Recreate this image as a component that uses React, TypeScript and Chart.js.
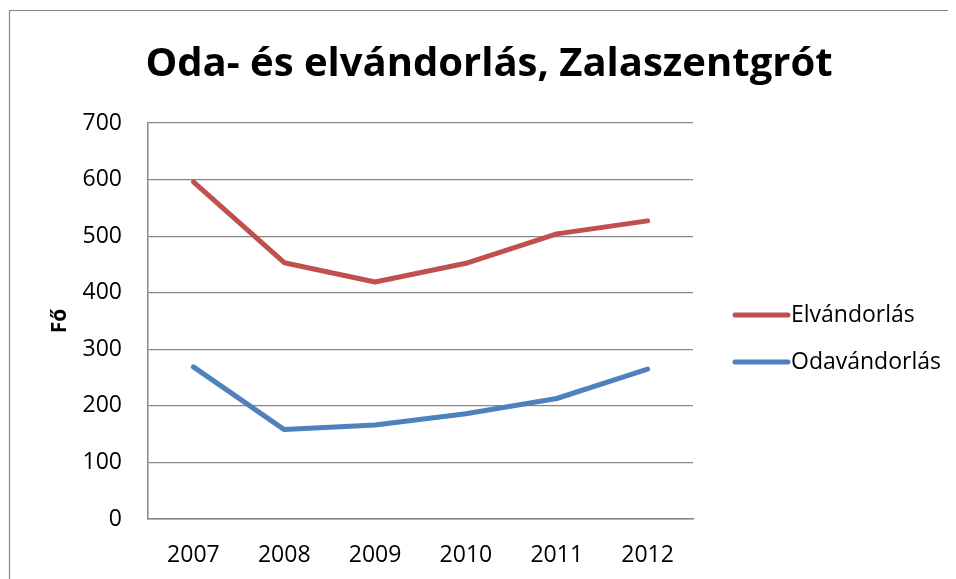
import React, { useEffect, useRef } from "react";
import { Chart, registerables } from "chart.js";

Chart.register(...registerables);

const categories = ["2007", "2008", "2009", "2010", "2011", "2012"];
const elvandorlas = [596, 453, 419, 452, 504, 527];
const odavandorlas = [269, 158, 166, 186, 213, 265];
const seriesNames = ["Elvándorlás", "Odavándorlás"];
const titleText = "Oda- és elvándorlás, Zalaszentgrót";
const yAxisTitle = "Fő";

const FONT = "'Open Sans', 'DejaVu Sans', sans-serif";
const GRAY = "#868686";

const frameAndLegend = {
  id: "frameAndLegend",
  beforeDraw(chart: any) {
    const { ctx, width, height } = chart;
    ctx.save();
    ctx.fillStyle = "#ffffff";
    ctx.fillRect(0, 0, width, height);
    ctx.strokeStyle = GRAY;
    ctx.lineWidth = 1.2;
    ctx.beginPath();
    ctx.moveTo(1.5, height + 5);
    ctx.lineTo(1.5, 2.5);
    ctx.lineTo(width + 5, 2.5);
    ctx.stroke();
    ctx.restore();
  },
  afterDraw(chart: any) {
    const { ctx, chartArea } = chart;
    const x0 = chartArea.right + 42;
    const offsets = [192, 239];
    ctx.save();
    chart.data.datasets.forEach((ds: any, i: number) => {
      const y = chartArea.top + offsets[i];
      ctx.strokeStyle = ds.borderColor;
      ctx.lineWidth = 5;
      ctx.lineCap = "round";
      ctx.beginPath();
      ctx.moveTo(x0, y);
      ctx.lineTo(x0 + 53, y);
      ctx.stroke();
      ctx.fillStyle = "#000000";
      ctx.font = `23px ${FONT}`;
      ctx.textBaseline = "middle";
      ctx.textAlign = "left";
      ctx.fillText(ds.label, x0 + 56, y);
    });
    ctx.restore();
  },
};

export default function App() {
  const ref = useRef<HTMLCanvasElement>(null);
  useEffect(() => {
    if (!ref.current) return;
    const chart = new Chart(ref.current, {
      type: "line",
      data: {
        labels: categories,
        datasets: [
          {
            label: seriesNames[0],
            data: elvandorlas,
            borderColor: "#C0504D",
            backgroundColor: "#C0504D",
            borderWidth: 5,
            borderCapStyle: "round",
            borderJoinStyle: "round",
            pointRadius: 0,
            tension: 0,
          },
          {
            label: seriesNames[1],
            data: odavandorlas,
            borderColor: "#4F81BD",
            backgroundColor: "#4F81BD",
            borderWidth: 5,
            borderCapStyle: "round",
            borderJoinStyle: "round",
            pointRadius: 0,
            tension: 0,
          },
        ],
      },
      options: {
        responsive: false,
        animation: false,
        devicePixelRatio: 1,
        layout: { padding: { left: 14, right: 0, top: 0, bottom: 0 } },
        plugins: {
          legend: { display: false },
          tooltip: { enabled: false },
          title: {
            display: true,
            text: titleText,
            color: "#000000",
            font: { family: FONT, size: 40, weight: "bold" },
            padding: { top: 33, bottom: 34 },
          },
        },
        scales: {
          x: {
            type: "category",
            offset: true,
            grid: { display: false, drawTicks: false },
            border: { display: true, color: GRAY, width: 1.5 },
            ticks: {
              color: "#000000",
              font: { family: FONT, size: 23 },
              padding: 23,
              maxRotation: 0,
            },
            afterFit(scale: any) {
              scale.height = 60;
            },
          },
          y: {
            min: 0,
            max: 700,
            grid: { color: GRAY, lineWidth: 1.2, drawTicks: false },
            border: { display: true, color: GRAY, width: 1.5 },
            ticks: {
              stepSize: 100,
              color: "#000000",
              font: { family: FONT, size: 23 },
              padding: 26,
            },
            title: {
              display: true,
              text: yAxisTitle,
              color: "#000000",
              font: { family: FONT, size: 21, weight: "bold" },
              padding: { top: 25, bottom: 0 },
            },
            afterFit(scale: any) {
              scale.width = 126;
            },
          },
          legendSpace: {
            type: "linear",
            position: "right",
            display: true,
            grid: { display: false, drawTicks: false },
            border: { display: false },
            ticks: { display: false },
            afterFit(scale: any) {
              scale.width = 263;
            },
          },
        },
      },
      plugins: [frameAndLegend],
    });
    return () => chart.destroy();
  }, []);
  return (
    <div style={{ width: 948, height: 571 }}>
      <canvas ref={ref} width={948} height={571} style={{ display: "block" }} />
    </div>
  );
}
